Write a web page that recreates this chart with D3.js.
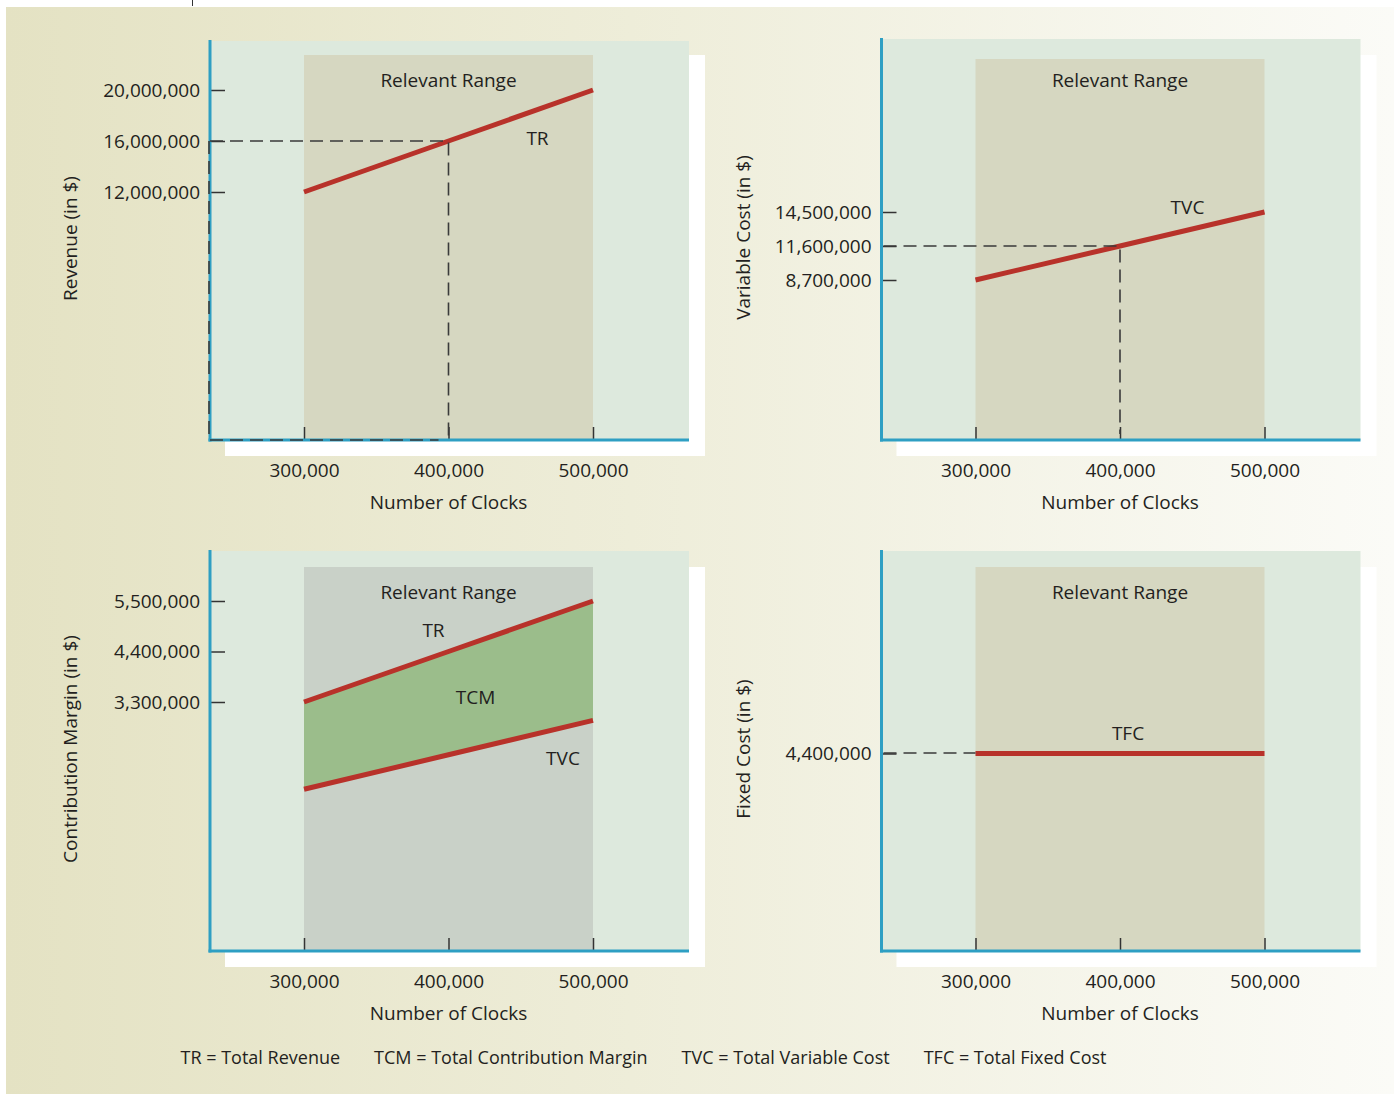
<!DOCTYPE html>
<html>
<head>
<meta charset="utf-8">
<script src="https://cdn.jsdelivr.net/npm/d3@7"></script>
<style>
  html, body { margin: 0; padding: 0; background: #ffffff; }
  svg { display: block; }
  text { font-family: "Open Sans", "DejaVu Sans", sans-serif; fill: #231f20; }
</style>
</head>
<body>
<svg id="chart" width="1394" height="1094"></svg>
<script>
// ---------------- data ----------------
const clocks = [300000, 400000, 500000];
const xTickValues = [300000, 400000, 500000];

const revenueTR = [12000000, 16000000, 20000000];
const revenueTicks = [12000000, 16000000, 20000000];

const variableTVC = [8700000, 11600000, 14500000];
const variableTicks = [8700000, 11600000, 14500000];

const cmTR = [3300000, 4400000, 5500000];
const cmTVC = [1400000, 2150000, 2900000];
const cmTicks = [3300000, 4400000, 5500000];

const fixedTFC = [4400000, 4400000, 4400000];
const fixedTicks = [4400000];

const relevantRange = [300000, 500000];
const highlightClocks = 400000;

const yTitles = ["Revenue (in $)", "Variable Cost (in $)", "Contribution Margin (in $)", "Fixed Cost (in $)"];
const xTitle = "Number of Clocks";
const legendItems = ["TR = Total Revenue", "TCM = Total Contribution Margin", "TVC = Total Variable Cost", "TFC = Total Fixed Cost"];

// ---------------- style ----------------
const C = {
  plot: "#dde9dd",
  range: "#d6d7c1",
  range3: "#c9d1c8",
  tcm: "#9bbd8b",
  red: "#b8322a",
  axis: "#2e9fc3",
  dark: "#333333",
  text: "#231f20"
};
const FONT = 19;

const svg = d3.select("#chart");
const defs = svg.append("defs");
const grad = defs.append("linearGradient").attr("id", "bg").attr("x1", "0").attr("x2", "1").attr("y1", "0").attr("y2", "0");
grad.append("stop").attr("offset", "0%").attr("stop-color", "#e4e2c3");
grad.append("stop").attr("offset", "45%").attr("stop-color", "#eeedd9");
grad.append("stop").attr("offset", "100%").attr("stop-color", "#fbfbf7");

svg.append("rect").attr("x", 6).attr("y", 7).attr("width", 1388).attr("height", 1087).attr("fill", "url(#bg)");
svg.append("line").attr("x1", 192.5).attr("x2", 192.5).attr("y1", 0).attr("y2", 6).attr("stroke", "#333").attr("stroke-width", 1);

const fmt = d3.format(",");
const W = 479;

function panel(cfg) {
  const g = svg.append("g").attr("transform", `translate(${cfg.x0},${cfg.top})`);
  const H = cfg.bottom - cfg.top;
  const x = d3.scaleLinear().domain([300000, 500000]).range([94, 383]);
  const y = d3.scaleLinear().domain(cfg.yDomain).range(cfg.yRange.map(v => v - cfg.top));

  // shadow + plot bg
  g.append("rect").attr("x", 15).attr("y", cfg.shadowTop - cfg.top).attr("width", W + 1).attr("height", H + 16 - (cfg.shadowTop - cfg.top)).attr("fill", "#ffffff");
  g.append("rect").attr("x", 0).attr("y", 0).attr("width", W).attr("height", H).attr("fill", C.plot);

  // relevant range
  g.append("rect")
    .attr("x", x(relevantRange[0])).attr("y", cfg.rangeTop - cfg.top)
    .attr("width", x(relevantRange[1]) - x(relevantRange[0]))
    .attr("height", H - (cfg.rangeTop - cfg.top))
    .attr("fill", cfg.rangeColor || C.range);

  g.append("text").attr("x", (x(relevantRange[0]) + x(relevantRange[1])) / 2)
    .attr("y", cfg.rangeLabelY - cfg.top).attr("dy", "0.35em").attr("text-anchor", "middle")
    .attr("font-size", FONT).text("Relevant Range");

  if (cfg.draw) cfg.draw(g, x, y, H);

  // axes
  const yAxis = d3.axisLeft(y).tickValues(cfg.yTicks).tickFormat(fmt).tickSizeInner(-14).tickSizeOuter(0).tickPadding(10);
  const ya = g.append("g").call(yAxis);
  ya.select(".domain").remove();
  ya.selectAll(".tick line").attr("stroke", C.dark).attr("stroke-width", 1.5).attr("transform", "translate(1,0)");
  ya.selectAll(".tick text").attr("font-size", FONT).attr("font-family", "Open Sans").attr("fill", C.text);

  const xAxis = d3.axisBottom(x).tickValues(xTickValues).tickFormat(fmt).tickSizeInner(-13).tickSizeOuter(0).tickPadding(24);
  const xa = g.append("g").attr("transform", `translate(0,${H})`).call(xAxis);
  xa.select(".domain").remove();
  xa.selectAll(".tick line").attr("stroke", C.dark).attr("stroke-width", 1.5);
  xa.selectAll(".tick text").attr("font-size", FONT).attr("font-family", "Open Sans").attr("fill", C.text);

  g.append("line").attr("x1", 0).attr("x2", 0).attr("y1", -1).attr("y2", H + 1.5).attr("stroke", C.axis).attr("stroke-width", 3);
  g.append("line").attr("x1", -1.5).attr("x2", W).attr("y1", H).attr("y2", H).attr("stroke", C.axis).attr("stroke-width", 3);

  if (cfg.overlay) cfg.overlay(g, x, y, H);

  // titles
  g.append("text").attr("x", x(400000)).attr("y", H + 69).attr("text-anchor", "middle").attr("font-size", FONT).text(xTitle);
  g.append("text").attr("transform", `translate(${cfg.titleX - cfg.x0},${H / 2 - 2}) rotate(-90)`)
    .attr("text-anchor", "middle").attr("dy", "0.35em").attr("font-size", FONT).text(cfg.yTitle);
}

function seriesLine(g, x, y, vals) {
  const line = d3.line().x((d, i) => x(clocks[i])).y(d => y(d));
  g.append("path").datum(vals).attr("d", line).attr("fill", "none").attr("stroke", C.red).attr("stroke-width", 5);
}
function dashed(g, pts) {
  g.append("path").attr("d", d3.line()(pts)).attr("fill", "none").attr("stroke", "#3a3a3a").attr("stroke-width", 1.6).attr("stroke-dasharray", "13,7");
}
function label(g, px, py, t) {
  g.append("text").attr("x", px).attr("y", py).attr("text-anchor", "middle").attr("dy", "0.35em").attr("font-size", FONT).text(t);
}

// Panel 1: Revenue
panel({
  x0: 210, top: 41, bottom: 440, shadowTop: 55, rangeTop: 55, rangeLabelY: 80,
  yDomain: [12000000, 20000000], yRange: [192, 90], yTicks: revenueTicks,
  titleX: 70, yTitle: yTitles[0],
  draw: (g, x, y, H) => {
    seriesLine(g, x, y, revenueTR);
    label(g, x(400000) + 89, y(16000000) - 3, "TR");
  },
  overlay: (g, x, y, H) => {
    const yy = y(revenueTR[1]), xx = x(highlightClocks);
    dashed(g, [[0, yy], [xx, yy], [xx, H]]);
    dashed(g, [[-1, yy], [-1, H], [xx - 10, H]]);
  }
});

// Panel 2: Variable cost
panel({
  x0: 881.5, top: 39, bottom: 440, shadowTop: 55, rangeTop: 59, rangeLabelY: 80,
  yDomain: [8700000, 14500000], yRange: [280, 212], yTicks: variableTicks,
  titleX: 743, yTitle: yTitles[1],
  draw: (g, x, y, H) => {
    seriesLine(g, x, y, variableTVC);
  },
  overlay: (g, x, y, H) => {
    const yy = y(variableTVC[1]), xx = x(highlightClocks);
    dashed(g, [[2, yy], [xx, yy], [xx, H - 6]]);
    label(g, x(500000) - 77, y(14500000) - 5 , "TVC");
  }
});

// Panel 3: Contribution margin
panel({
  x0: 210, top: 551, bottom: 951, shadowTop: 567, rangeTop: 567, rangeLabelY: 592, rangeColor: C.range3,
  yDomain: [3300000, 5500000], yRange: [702, 601], yTicks: cmTicks,
  titleX: 70, yTitle: yTitles[2],
  draw: (g, x, y, H) => {
    const area = d3.area().x((d, i) => x(clocks[i])).y0((d, i) => y(cmTVC[i])).y1(d => y(d));
    g.append("path").datum(cmTR).attr("d", area).attr("fill", C.tcm);
    seriesLine(g, x, y, cmTR);
    seriesLine(g, x, y, cmTVC);
    label(g, x(400000) - 15, y(4400000) - 21, "TR");
    label(g, x(400000) + 27, y(4400000) + 46, "TCM");
    label(g, x(500000) - 30, y(cmTVC[2]) + 38, "TVC");
  }
});

// Panel 4: Fixed cost
panel({
  x0: 881.5, top: 551, bottom: 951, shadowTop: 567, rangeTop: 567, rangeLabelY: 592,
  yDomain: [0, 4400000], yRange: [951, 753.5], yTicks: fixedTicks,
  titleX: 743, yTitle: yTitles[3],
  draw: (g, x, y, H) => {
    seriesLine(g, x, y, fixedTFC);
    label(g, x(400000) + 8, y(4400000) - 20, "TFC");
  },
  overlay: (g, x, y, H) => {
    const yy = y(fixedTFC[0]) - 0.5;
    dashed(g, [[2, yy], [x(300000), yy]]);
  }
});

// legend
const lg = svg.append("g");
const items = lg.selectAll("text").data(legendItems).join("text")
  .attr("y", 1058).attr("dy", "0.35em").attr("font-size", 18).text(d => d);
const widths = [];
items.each(function () { widths.push(this.getComputedTextLength()); });
const gap = 34;
const total = d3.sum(widths) + gap * (widths.length - 1);
let cx = 643.5 - total / 2;
items.attr("x", (d, i) => { const v = cx; cx += widths[i] + gap; return v; });
</script>
</body>
</html>
